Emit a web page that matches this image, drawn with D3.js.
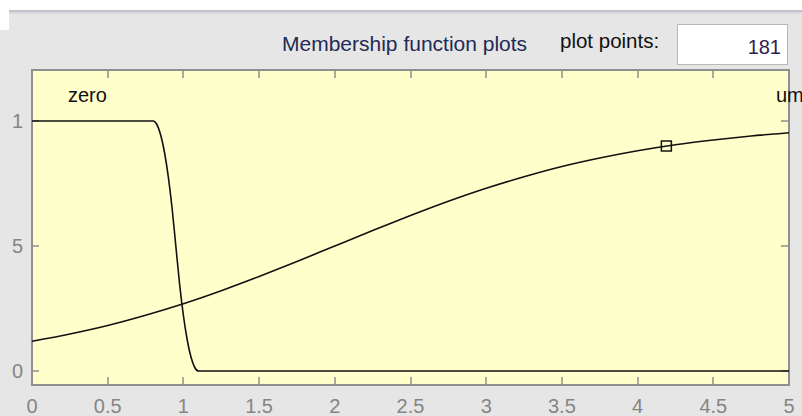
<!DOCTYPE html>
<html>
<head>
<meta charset="utf-8">
<script src="https://cdn.jsdelivr.net/npm/d3@7"></script>
<style>
  html, body { margin: 0; padding: 0; background: #fff; }
  svg { display: block; font-family: "Liberation Sans", Arial, sans-serif; }
</style>
</head>
<body>
<svg id="chart" width="802" height="416"></svg>
<script>
// x ticks and y ticks as shown in the picture (the 0.5 label is clipped to "5")
const xTicks = [0, 0.5, 1, 1.5, 2, 2.5, 3, 3.5, 4, 4.5, 5];
const xTickLabels = ["0", "0.5", "1", "1.5", "2", "2.5", "3", "3.5", "4", "4.5", "5"];
const yTicks = [0, 0.5, 1];
const yTickLabels = ["0", "5", "1"];

// "zero" membership function
const zeroX = [0, 0.4, 0.8, 0.825, 0.85, 0.875, 0.9, 0.925, 0.95, 0.975, 1.0, 1.025, 1.05, 1.075, 1.1, 3, 5];
const zeroY = [1, 1, 1, 0.986, 0.944, 0.875, 0.778, 0.653, 0.5, 0.347, 0.222, 0.125, 0.056, 0.014, 0, 0, 0];

// second (rising) membership function
const riseX = [0, 0.25, 0.5, 0.75, 1, 1.25, 1.5, 1.75, 2, 2.25, 2.5, 2.75, 3, 3.25, 3.5, 3.75, 4, 4.25, 4.5, 4.75, 5];
const riseY = [0.119, 0.148, 0.182, 0.223, 0.269, 0.321, 0.378, 0.438, 0.5, 0.562, 0.622, 0.679, 0.731, 0.777, 0.818, 0.852, 0.881, 0.905, 0.924, 0.940, 0.953];

// selected point marker
const markerX = [4.19];
const markerY = [0.9];

const mfLabels = [{ text: "zero", x: 68 }, { text: "um", x: 776 }];

const svg = d3.select("#chart");
const W = 802, H = 416;
const plot = { left: 32, right: 789, top: 70, bottom: 385 };

const x = d3.scaleLinear().domain([0, 5]).range([plot.left, plot.right]);
const y = d3.scaleLinear().domain([0, 1]).range([371, 121]);

// panel background
svg.append("rect").attr("width", W).attr("height", H).attr("fill", "#e6e6e6");
svg.append("rect").attr("x", 0).attr("y", 0).attr("width", W).attr("height", 10).attr("fill", "#fff");
svg.append("rect").attr("x", 0).attr("y", 0).attr("width", 9).attr("height", 30).attr("fill", "#fff");
svg.append("rect").attr("x", 9).attr("y", 10).attr("width", W - 9).attr("height", 2).attr("fill", "#c2c2cc");
svg.append("rect").attr("x", 9).attr("y", 12).attr("width", W - 9).attr("height", 2).attr("fill", "#d9d9de");

// header
svg.append("text")
  .attr("x", 282).attr("y", 51)
  .attr("font-size", 21)
  .attr("fill", "#222a55")
  .text("Membership function plots");

svg.append("text")
  .attr("x", 560).attr("y", 48)
  .attr("font-size", 20.5)
  .attr("fill", "#111")
  .text("plot points:");

svg.append("rect")
  .attr("x", 677.5).attr("y", 24.5).attr("width", 110).attr("height", 40)
  .attr("fill", "#fff").attr("stroke", "#b8b8b8");

svg.append("text")
  .attr("x", 781).attr("y", 54)
  .attr("font-size", 20)
  .attr("text-anchor", "end")
  .attr("fill", "#33204d")
  .text("181");

// plot area
svg.append("rect")
  .attr("x", plot.left).attr("y", plot.top)
  .attr("width", plot.right - plot.left).attr("height", plot.bottom - plot.top)
  .attr("fill", "#ffffcc");

const tickColor = "#8c8c8c";
const ticks = svg.append("g").attr("stroke", tickColor).attr("stroke-width", 1.5);

ticks.selectAll(".xt-top")
  .data(xTicks.slice(1, -1))
  .join("line")
  .attr("x1", d => Math.round(x(d))).attr("x2", d => Math.round(x(d)))
  .attr("y1", plot.top).attr("y2", plot.top + 8);

ticks.selectAll(".xt-bottom")
  .data(xTicks.slice(1, -1))
  .join("line")
  .attr("x1", d => Math.round(x(d))).attr("x2", d => Math.round(x(d)))
  .attr("y1", plot.bottom).attr("y2", plot.bottom - 8);

ticks.selectAll(".yt-left")
  .data(yTicks)
  .join("line")
  .attr("x1", plot.left).attr("x2", plot.left + 7)
  .attr("y1", d => y(d)).attr("y2", d => y(d));

ticks.selectAll(".yt-right")
  .data(yTicks)
  .join("line")
  .attr("x1", plot.right).attr("x2", plot.right - 8)
  .attr("y1", d => y(d)).attr("y2", d => y(d));

// frame
svg.append("rect")
  .attr("x", plot.left).attr("y", plot.top)
  .attr("width", plot.right - plot.left).attr("height", plot.bottom - plot.top)
  .attr("fill", "none").attr("stroke", "#8f8f8f").attr("stroke-width", 2);

// tick labels
svg.append("g")
  .selectAll("text")
  .data(xTicks)
  .join("text")
  .attr("x", d => x(d)).attr("y", 413)
  .attr("text-anchor", "middle")
  .attr("font-size", 20)
  .attr("fill", "#858585")
  .text((d, i) => xTickLabels[i]);

svg.append("g")
  .selectAll("text")
  .data(yTicks)
  .join("text")
  .attr("x", 23).attr("y", d => y(d))
  .attr("dy", "0.36em")
  .attr("text-anchor", "end")
  .attr("font-size", 20)
  .attr("fill", "#858585")
  .text((d, i) => yTickLabels[i]);

// membership curves
const line = d3.line()
  .x(d => x(d[0]))
  .y(d => y(d[1]))
  .curve(d3.curveMonotoneX);

svg.append("path")
  .datum(zeroX.map((v, i) => [v, zeroY[i]]))
  .attr("d", line)
  .attr("fill", "none").attr("stroke", "#111").attr("stroke-width", 1.6);

svg.append("path")
  .datum(riseX.map((v, i) => [v, riseY[i]]))
  .attr("d", line)
  .attr("fill", "none").attr("stroke", "#111").attr("stroke-width", 1.6);

svg.selectAll(".marker")
  .data(markerX.map((v, i) => [v, markerY[i]]))
  .join("rect")
  .attr("x", d => x(d[0]) - 5).attr("y", d => y(d[1]) - 5)
  .attr("width", 10).attr("height", 10)
  .attr("fill", "none").attr("stroke", "#111").attr("stroke-width", 1.5);

// membership function names
svg.append("g")
  .selectAll("text")
  .data(mfLabels)
  .join("text")
  .attr("x", d => d.x).attr("y", 102)
  .attr("font-size", 20)
  .attr("fill", "#111")
  .text(d => d.text);
</script>
</body>
</html>
